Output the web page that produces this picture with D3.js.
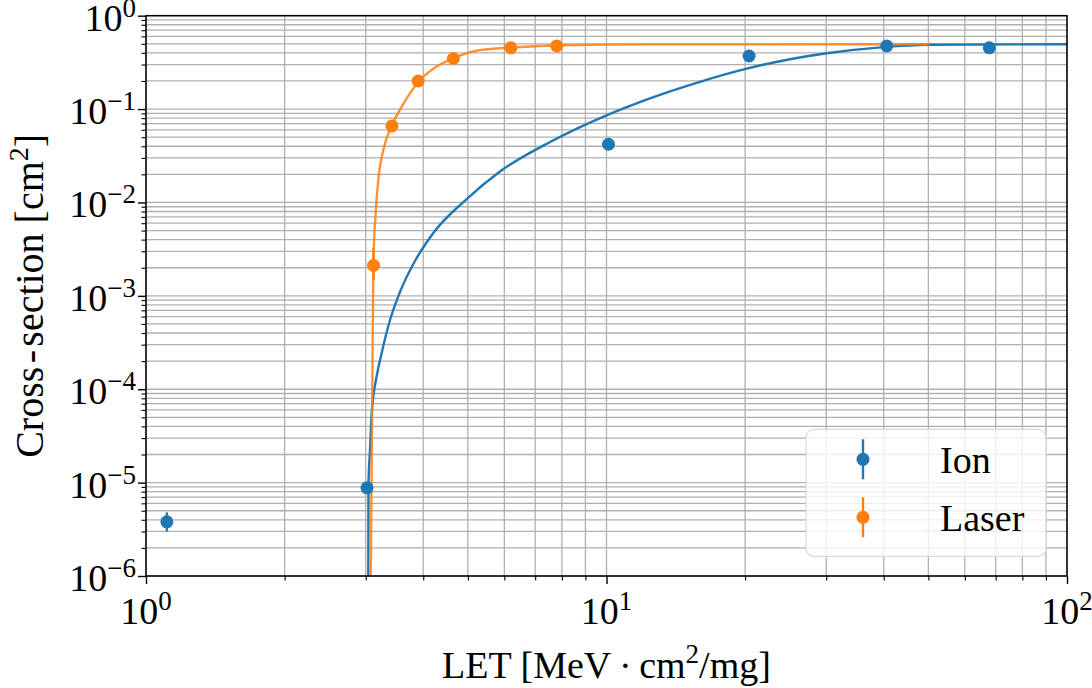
<!DOCTYPE html>
<meta charset="utf-8">
<script src="https://d3js.org/d3.v7.min.js"></script>
<style>
  body { margin: 0; background: #fff; }
  text { font-family: "Liberation Serif", "DejaVu Serif", serif; fill: #000; }
</style>
<div id="chart"></div>
<script>

// measured points
const ionLET   = [1.11, 3.02, 10.1, 20.4, 40.6, 67.8];
const ionSigma = [3.8e-6, 8.8e-6, 0.042, 0.37, 0.475, 0.453];
const ionErrLo = [3.0e-6, 8.8e-6, 0.042, 0.37, 0.475, 0.453];
const ionErrHi = [4.8e-6, 8.8e-6, 0.042, 0.37, 0.475, 0.453];

const laserLET   = [3.12, 3.42, 3.90, 4.65, 6.20, 7.80];
const laserSigma = [2.12e-3, 0.066, 0.20, 0.348, 0.453, 0.475];
const laserErrLo = [1.48e-3, 0.066, 0.20, 0.348, 0.453, 0.475];
const laserErrHi = [3.26e-3, 0.066, 0.20, 0.348, 0.453, 0.475];

// fitted curves
const ionFitLET   = [3.039, 3.042, 3.065, 3.091, 3.116, 3.158, 3.249, 3.388, 3.561, 3.838, 4.206, 4.971, 5.871, 7.541, 10.09, 12.43, 15.96, 20.16, 25.03, 30.08, 39.93, 50.42, 100];
const ionFitSigma = [1e-6, 9.66e-6, 2.23e-5, 5.56e-5, 8.32e-5, 1.256e-4, 2.44e-4, 5.51e-4, 1.10e-3, 2.36e-3, 4.71e-3, 1.089e-2, 2.146e-2, 4.44e-2, 8.73e-2, 0.1304, 0.1959, 0.2707, 0.342, 0.3957, 0.461, 0.488, 0.4952];

const laserFitLET   = [3.077, 3.100, 3.116, 3.153, 3.194, 3.276, 3.416, 3.592, 3.902, 4.243, 4.649, 5.182, 5.585, 6.203, 7.171, 8.197, 12.43, 50.14];
const laserFitSigma = [1e-6, 8.32e-5, 2.10e-3, 7.65e-3, 0.0174, 0.0365, 0.0664, 0.1060, 0.195, 0.2788, 0.3499, 0.4183, 0.4397, 0.4565, 0.4736, 0.4831, 0.4927, 0.494];

const xMajor = [0, 1, 2];            // exponents 10^0 .. 10^2
const yMajor = [0, -1, -2, -3, -4, -5, -6];

const blue = "#1f77b4", orange = "#ff7f0e";

const margin = {top: 15.7, right: 25, bottom: 112, left: 146},
    width = 1067 - margin.left,
    height = 576 - margin.top;

const svg = d3.select("#chart")
  .append("svg")
    .attr("width", 1092)
    .attr("height", 688)
  .append("g")
    .attr("transform", `translate(${margin.left}, ${margin.top})`);

const x = d3.scaleLog().domain([1, 100]).range([0, width]);
const y = d3.scaleLog().domain([1e-6, 1]).range([height, 0]);

// all 1..9 x 10^k values
const xAll = [], yAll = [];
for (let k = 0; k < 2; k++) for (let m = 1; m < 10; m++) xAll.push(m * Math.pow(10, k));
xAll.push(100);
for (let k = -6; k < 0; k++) for (let m = 1; m < 10; m++) yAll.push(m * Math.pow(10, k));
yAll.push(1);

// grid
svg.append("g").selectAll("line").data(xAll).join("line")
  .attr("x1", d => x(d)).attr("x2", d => x(d))
  .attr("y1", 0).attr("y2", height)
  .style("stroke", "#b0b0b0").style("stroke-width", 1.3);
svg.append("g").selectAll("line").data(yAll).join("line")
  .attr("y1", d => y(d)).attr("y2", d => y(d))
  .attr("x1", 0).attr("x2", width)
  .style("stroke", "#b0b0b0").style("stroke-width", 1.3);

// fitted curves
svg.append("clipPath").attr("id", "clip")
  .append("rect").attr("width", width).attr("height", height);

const line = d3.line().curve(d3.curveMonotoneX);
const plot = svg.append("g").attr("clip-path", "url(#clip)");

plot.append("path")
  .attr("d", line(ionFitLET.map((d, i) => [x(d), y(ionFitSigma[i])])))
  .style("fill", "none").style("stroke", blue).style("stroke-width", 2.4);
plot.append("path")
  .attr("d", line(laserFitLET.map((d, i) => [x(d), y(laserFitSigma[i])])))
  .style("fill", "none").style("stroke", orange).style("stroke-width", 2.4)
  .style("opacity", 0.85);

// error bars + markers
function drawSeries(xs, ys, lo, hi, color) {
  const g = svg.append("g");
  g.selectAll("line").data(xs).join("line")
    .attr("x1", d => x(d)).attr("x2", d => x(d))
    .attr("y1", (d, i) => y(lo[i])).attr("y2", (d, i) => y(hi[i]))
    .style("stroke", color).style("stroke-width", 2.4);
  g.selectAll("circle").data(xs).join("circle")
    .attr("cx", d => x(d))
    .attr("cy", (d, i) => y(ys[i]))
    .attr("r", 6.5)
    .style("fill", color);
}
drawSeries(ionLET, ionSigma, ionErrLo, ionErrHi, blue);
drawSeries(laserLET, laserSigma, laserErrLo, laserErrHi, orange);

// axes (ticks only, labels drawn below)
const isMajor = d => Math.abs(Math.log10(d) - Math.round(Math.log10(d))) < 1e-9;
const xAxis = svg.append("g").attr("transform", `translate(0, ${height})`)
  .call(d3.axisBottom(x).tickValues(xAll).tickFormat("").tickSizeOuter(0));
const yAxis = svg.append("g")
  .call(d3.axisLeft(y).tickValues(yAll).tickFormat("").tickSizeOuter(0));
[xAxis, yAxis].forEach(a => {
  a.select(".domain").remove();
  a.selectAll(".tick line")
    .attr("stroke", "#000")
    .attr("stroke-width", d => isMajor(d) ? 1.4 : 1.1);
});
xAxis.selectAll(".tick line").attr("y2", d => isMajor(d) ? 8 : 4.5);
yAxis.selectAll(".tick line").attr("x2", d => isMajor(d) ? -8 : -4.5);

// frame
svg.append("rect")
  .attr("width", width).attr("height", height)
  .style("fill", "none").style("stroke", "#000").style("stroke-width", 1.5);

// tick labels
const fs = 38;
xAxis.selectAll(".xlab").data(xMajor).join("text")
  .attr("class", "xlab")
  .attr("x", d => x(Math.pow(10, d)))
  .attr("y", 48)
  .attr("text-anchor", "middle")
  .style("font-size", fs + "px")
  .each(function(d) {
    const t = d3.select(this);
    t.append("tspan").text("10");
    t.append("tspan").attr("dy", -14).style("font-size", "27px").text(String(d));
  });

yAxis.selectAll(".ylab").data(yMajor).join("text")
  .attr("class", "ylab")
  .attr("x", -10)
  .attr("y", d => y(Math.pow(10, d)) + 15)
  .attr("text-anchor", "end")
  .style("font-size", fs + "px")
  .each(function(d) {
    const t = d3.select(this);
    t.append("tspan").text("10");
    t.append("tspan").attr("dy", -14).style("font-size", "27px")
      .text(d < 0 ? "\u2212" + (-d) : String(d));
  });

// axis titles
const xt = svg.append("text")
  .attr("x", width / 2)
  .attr("y", height + 102)
  .attr("text-anchor", "middle")
  .style("font-size", fs + "px");
xt.append("tspan").text("LET [MeV\u2009\u00b7\u2009cm");
xt.append("tspan").attr("dy", -15).style("font-size", "27px").text("2");
xt.append("tspan").attr("dy", 15).text("/mg]");

const yt = svg.append("text")
  .attr("transform", `translate(${-146 + 43}, ${height / 2}) rotate(-90)`)
  .attr("text-anchor", "middle")
  .style("font-size", "40px");
yt.append("tspan").text("Cross\u200a-\u200asection [cm");
yt.append("tspan").attr("dy", -15).style("font-size", "28px").text("2");
yt.append("tspan").attr("dy", 15).text("]");

// legend
const leg = svg.append("g").attr("transform", `translate(${806 - margin.left}, ${429.3 - margin.top})`);
leg.append("rect")
  .attr("width", 240).attr("height", 127).attr("rx", 8)
  .style("fill", "#fff").style("fill-opacity", 0.8)
  .style("stroke", "#d9d9d9").style("stroke-width", 1.2);
const legItems = [["Ion", blue], ["Laser", orange]];
legItems.forEach(([name, color], i) => {
  const cy = 30 + i * 58;
  leg.append("line")
    .attr("x1", 57).attr("x2", 57).attr("y1", cy - 20).attr("y2", cy + 20)
    .style("stroke", color).style("stroke-width", 2.4);
  leg.append("circle").attr("cx", 57).attr("cy", cy).attr("r", 6.5).style("fill", color);
  leg.append("text")
    .attr("x", 134).attr("y", cy + 14)
    .style("font-size", fs + "px")
    .text(name);
});

</script>
